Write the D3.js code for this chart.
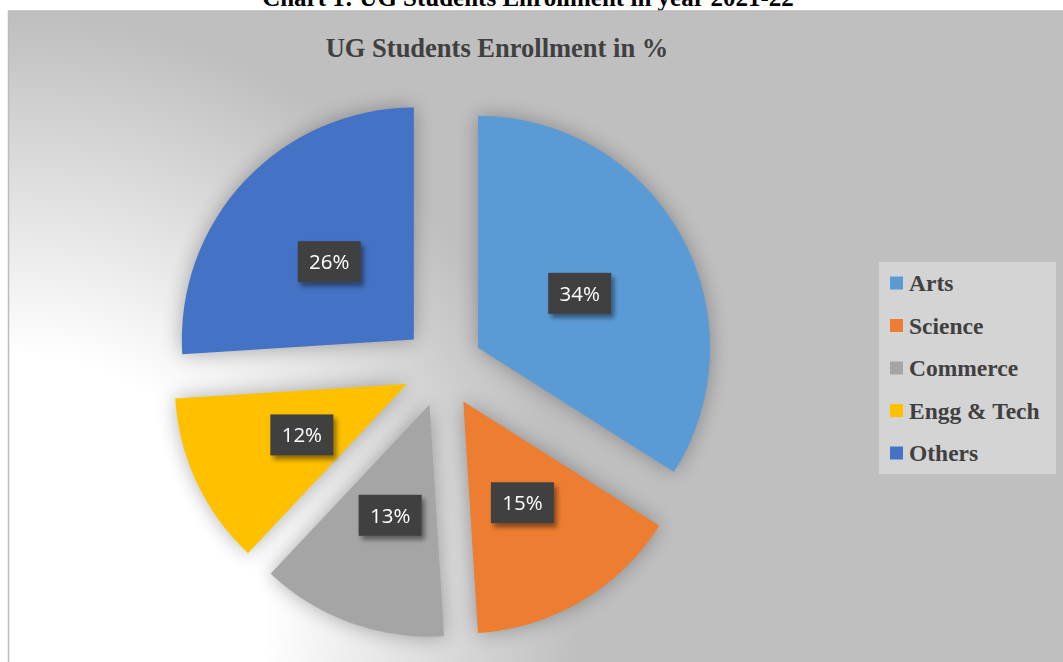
<!DOCTYPE html>
<html>
<head>
<meta charset="utf-8">
<script src="https://cdn.jsdelivr.net/npm/d3@7"></script>
<style>
  html, body { margin: 0; padding: 0; background: #ffffff; }
  svg { display: block; }
</style>
</head>
<body>
<script>
// ---- data ----
const categories = ["Arts", "Science", "Commerce", "Engg & Tech", "Others"];
const values = [34, 15, 13, 12, 26];
const colors = ["#5B9BD5", "#ED7D31", "#A5A5A5", "#FFC000", "#4472C4"];
const pageTitle = "Chart 1: UG Students Enrollment in year 2021-22";
const chartTitle = "UG Students Enrollment in %";

const W = 1063, H = 662;
const svg = d3.select("body").append("svg").attr("width", W).attr("height", H);
const defs = svg.append("defs");

// background gradient
const rg = defs.append("radialGradient").attr("id", "bg")
  .attr("gradientUnits", "userSpaceOnUse")
  .attr("cx", 20).attr("cy", 620).attr("r", 680)
  .attr("gradientTransform", "translate(20,620) scale(1,1.08) translate(-20,-620)");
rg.append("stop").attr("offset", 0).attr("stop-color", "#ffffff");
rg.append("stop").attr("offset", 0.36).attr("stop-color", "#ffffff");
rg.append("stop").attr("offset", 0.82).attr("stop-color", "#bfbfbf");
rg.append("stop").attr("offset", 1).attr("stop-color", "#bfbfbf");

// blur for pie glow
const fb = defs.append("filter").attr("id", "glow")
  .attr("x", "-30%").attr("y", "-30%").attr("width", "160%").attr("height", "160%");
fb.append("feGaussianBlur").attr("stdDeviation", 10);

// label shadow
const ls = defs.append("filter").attr("id", "lshadow")
  .attr("x", "-30%").attr("y", "-30%").attr("width", "170%").attr("height", "190%");
ls.append("feDropShadow").attr("dx", 3).attr("dy", 4).attr("stdDeviation", 2.5)
  .attr("flood-color", "#000").attr("flood-opacity", 0.45);

// page title (partly hidden behind chart area, as in the source)
svg.append("text")
  .attr("x", 528).attr("y", 6)
  .attr("text-anchor", "middle")
  .attr("font-family", "'Liberation Serif', 'Times New Roman', serif")
  .attr("font-weight", "bold").attr("font-size", 25)
  .attr("fill", "#000")
  .text(pageTitle);

// chart area
svg.append("rect")
  .attr("x", 8.5).attr("y", 11).attr("width", W).attr("height", H)
  .attr("fill", "url(#bg)")
  .attr("stroke", "#bcbcbc").attr("stroke-width", 1.5);

// chart title
svg.append("text")
  .attr("x", 497).attr("y", 57)
  .attr("text-anchor", "middle")
  .attr("font-family", "'Liberation Serif', 'Times New Roman', serif")
  .attr("font-weight", "bold").attr("font-size", 26.5)
  .attr("fill", "#404040")
  .text(chartTitle);

// pie
const cx = 443, cy = 367, R = 232, explode = 40, labelR = 156;
const data = categories.map((c, i) => ({ name: c, value: values[i], color: colors[i] }));
const pie = d3.pie().sort(null).value(d => d.value).startAngle(0).endAngle(2 * Math.PI);
const arcs = pie(data);
const arc = d3.arc().innerRadius(0).outerRadius(R);
const mid = d => (d.startAngle + d.endAngle) / 2;
const off = (d, r) => [Math.sin(mid(d)) * r, -Math.cos(mid(d)) * r];

const g = svg.append("g").attr("transform", `translate(${cx},${cy})`);

// glow/shadow layer
g.append("g").attr("filter", "url(#glow)").attr("opacity", 0.3)
  .selectAll("path").data(arcs).enter().append("path")
  .attr("d", arc)
  .attr("transform", d => { const o = off(d, explode); return `translate(${o[0]},${o[1]})`; })
  .attr("fill", "#000");

g.append("g").selectAll("path").data(arcs).enter().append("path")
  .attr("d", arc)
  .attr("transform", d => { const o = off(d, explode); return `translate(${o[0]},${o[1]})`; })
  .attr("fill", d => d.data.color);

// labels
const lbl = g.append("g").selectAll("g").data(arcs).enter().append("g")
  .attr("transform", d => { const o = off(d, labelR); return `translate(${o[0]},${o[1] + 1.5})`; });
lbl.append("rect")
  .attr("x", -31.5).attr("y", -20.5).attr("width", 63).attr("height", 41)
  .attr("fill", "#404040")
  .attr("filter", "url(#lshadow)");
lbl.append("text")
  .attr("text-anchor", "middle").attr("dy", "0.36em")
  .attr("font-family", "'Open Sans', sans-serif")
  .attr("font-size", 20.5)
  .attr("fill", "#ffffff")
  .text(d => d.data.value + "%");

// legend
const lg = svg.append("g");
lg.append("rect").attr("x", 879).attr("y", 262).attr("width", 177).attr("height", 212)
  .attr("fill", "#d4d4d4");
const rowY = d3.scalePoint().domain(categories).range([283, 453]);
const items = lg.selectAll("g.item").data(data).enter().append("g")
  .attr("transform", d => `translate(0,${rowY(d.name)})`);
items.append("rect").attr("x", 890).attr("y", -6.5).attr("width", 13).attr("height", 13)
  .attr("fill", d => d.color);
items.append("text").attr("x", 909).attr("dy", "0.34em")
  .attr("font-family", "'Liberation Serif', 'Times New Roman', serif")
  .attr("font-weight", "bold").attr("font-size", 23.5)
  .attr("fill", "#404040")
  .text(d => d.name);
</script>
</body>
</html>
